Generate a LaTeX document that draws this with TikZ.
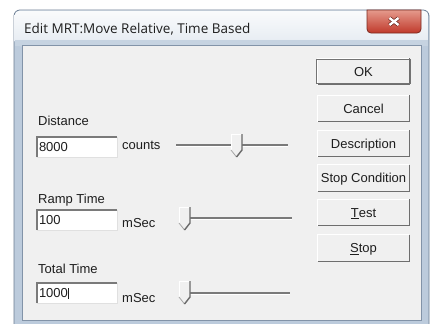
\documentclass[tikz,border=0pt]{standalone}
\usepackage{fontspec}
\setmainfont{Liberation Sans}
\newfontfamily\titlefont{Open Sans}
\newcommand\dlgfont{\fontsize{13}{15}\selectfont}
\definecolor{bgc}{HTML}{F0F0F0}
\definecolor{framefill}{HTML}{BCCBDC}
\definecolor{framecol}{HTML}{6A7C92}
\definecolor{clientcol}{HTML}{8293A8}
\definecolor{shcol}{HTML}{6E6E6E}
\definecolor{txt}{HTML}{1E1E1E}
\definecolor{trackc}{HTML}{7A7A7A}
\definecolor{thumbdark}{HTML}{6A6A6A}
\definecolor{closetop}{HTML}{E59A8C}
\definecolor{closebot}{HTML}{C0392B}
\definecolor{closeedge}{HTML}{7A2A20}
\newcommand\sliderthumb[2]{%
  \fill[bgc] (#1,#2) -- ++(11,0) -- ++(0,16) -- ++(-5.5,7) -- ++(-5.5,-7) -- cycle;
  \draw[white,line width=1pt] (#1,#2+16) -- (#1,#2) -- (#1+11,#2);
  \draw[black!35,line width=0.8pt] (#1,#2+16) -- (#1+5.5,#2+23);
  \draw[thumbdark,line width=1.4pt] (#1+11,#2) -- (#1+11,#2+16) -- (#1+5.5,#2+23);
}
\begin{document}
\begin{tikzpicture}[x=1pt,y=-1pt,
  lbl/.style={anchor=base west, inner sep=0pt, font=\dlgfont, text=txt},
  btn/.style={minimum width=91pt, minimum height=26pt, inner sep=0pt, fill=bgc,
    font=\dlgfont, text=txt, text height=9.3pt, text depth=0pt},
  editbox/.style={minimum width=80pt, minimum height=20pt, inner sep=0pt, fill=white,
    font=\dlgfont, text=txt, text width=76pt, align=left, text height=9.3pt, text depth=0pt},
  hl/.style={draw=white, line width=1.2pt},
  sh/.style={draw=shcol, line width=1.2pt},
  sunk/.style={draw=trackc, line width=1.5pt},
  sunkl/.style={draw=black!12, line width=1.2pt},
  track/.style={draw=trackc, line width=1.4pt},
  trackl/.style={draw=white, line width=1pt},
]
\useasboundingbox (0,0) rectangle (434,324);
\fill[white] (0,0) rectangle (434,324);
% window frame
\draw[framecol, fill=framefill, rounded corners=6, line width=0.8pt] (14,10) rectangle (429,334);
\shade[top color=white!92!framefill, bottom color=white!60!framefill, rounded corners=5]
  (14.6,10.6) rectangle (428.4,46);
\fill[framefill!85!white] (15,40) rectangle (428,46);
% close button
\shade[top color=closetop, bottom color=closebot, draw=closeedge, line width=0.8pt]
  (367,10) [rounded corners=4] -- (367,33) -- (421,33) [sharp corners] -- (421,10) -- cycle;
\coordinate (xc) at (394,21.5);
\draw[closeedge!80!black, line width=3.8pt] ([shift={(-4.5pt,3.5pt)}]xc) -- ([shift={(4.5pt,-3.5pt)}]xc);
\draw[closeedge!80!black, line width=3.8pt] ([shift={(-4.5pt,-3.5pt)}]xc) -- ([shift={(4.5pt,3.5pt)}]xc);
\draw[white, line width=2.4pt] ([shift={(-4.5pt,3.5pt)}]xc) -- ([shift={(4.5pt,-3.5pt)}]xc);
\draw[white, line width=2.4pt] ([shift={(-4.5pt,-3.5pt)}]xc) -- ([shift={(4.5pt,3.5pt)}]xc);
% title
\node[anchor=base west, inner sep=0pt, font=\titlefont\fontsize{13.5}{16}\selectfont, text=txt]
  (title) at (24,33) {Edit MRT:Move Relative, Time Based};
% client area
\draw[clientcol, fill=bgc, line width=0.8pt] (22,45) rectangle (421,320);

% labels
\node[lbl] (ldist) at (38,125) {Distance};
\node[lbl] (lramp) at (38,203) {Ramp Time};
\node[lbl] (ltot) at (38,273) {Total Time};
\node[lbl] (ucount) at (122,149) {counts};
\node[lbl] (uramp) at (122,227) {mSec};
\node[lbl] (utot) at (122,302) {mSec};

% edit boxes
\node[editbox] (e1) at (77,147) {8000};
\node[editbox] (e2) at (77,220) {100};
\node[editbox] (e3) at (77,293) {1000\rule[-1pt]{0.9pt}{11pt}};
\foreach \n in {e1,e2,e3}{
  \draw[sunkl] (\n.south west) -- (\n.south east) -- (\n.north east);
  \draw[sunk] (\n.south west) -- (\n.north west) -- (\n.north east);
}

% sliders
\coordinate (s1a) at (176,145); \coordinate (s1b) at (288,145);
\coordinate (s2a) at (180,218); \coordinate (s2b) at (292,218);
\coordinate (s3a) at (180,293); \coordinate (s3b) at (290,293);
\foreach \a/\b in {s1a/s1b,s2a/s2b,s3a/s3b}{
  \draw[track] (\a) -- (\b);
  \draw[trackl] ([yshift=-1.3pt]\a) -- ([yshift=-1.3pt]\b);
}
\sliderthumb{231}{134}
\sliderthumb{179}{207}
\sliderthumb{179}{281}

% buttons
\node[btn] (ok) at (363.5,71.5) {OK};
\node[btn] (cancel) at (363.5,108.5) {Cancel};
\node[btn] (desc) at (363.5,143.5) {Description};
\node[btn] (stopc) at (363.5,178) {Stop Condition};
\node[btn] (test) at (363.5,212.5) {\underline{T}est};
\node[btn] (stop) at (363.5,248) {\underline{S}top};
\foreach \n in {ok,cancel,desc,stopc,test,stop}{
  \draw[hl] (\n.south west) -- (\n.north west) -- (\n.north east);
  \draw[sh] (\n.north east) -- (\n.south east) -- (\n.south west);
}
\draw[black!55, line width=1pt] ([shift={(-1pt,-1pt)}]ok.north west) rectangle ([shift={(1pt,1pt)}]ok.south east);
\end{tikzpicture}
\end{document}
